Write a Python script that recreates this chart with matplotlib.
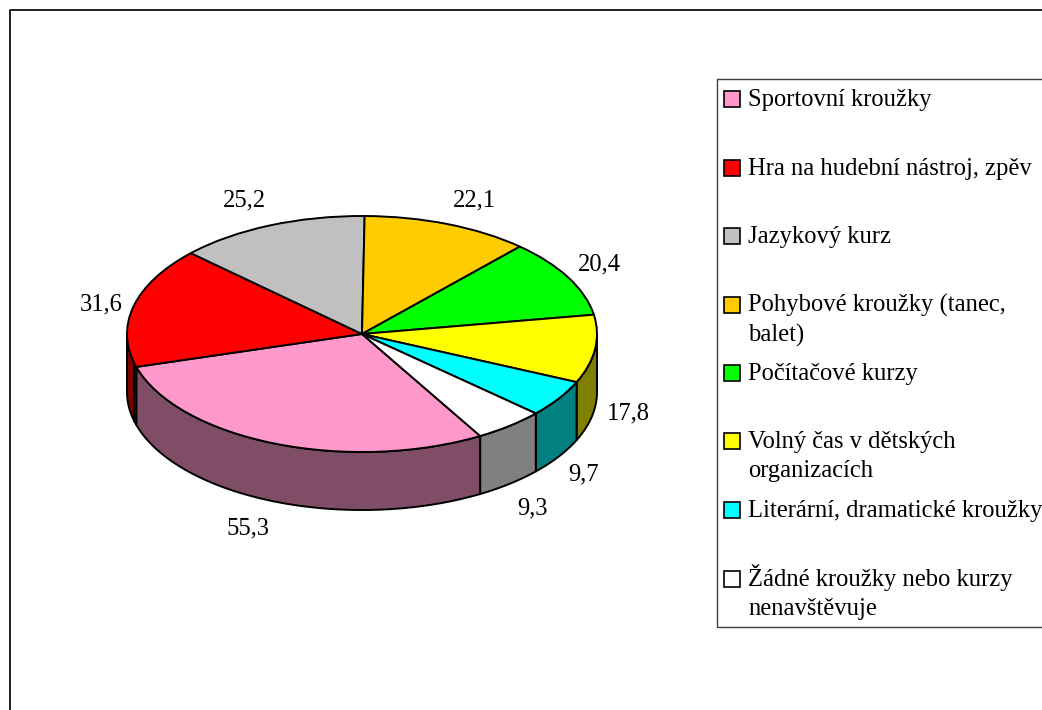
import numpy as np
import matplotlib
matplotlib.use('Agg')
import matplotlib.pyplot as plt
from matplotlib.patches import Rectangle
from matplotlib.lines import Line2D

plt.rcParams['font.family'] = ['Liberation Serif', 'DejaVu Serif']

categories = ['Sportovní kroužky', 'Hra na hudební nástroj, zpěv', 'Jazykový kurz',
              'Pohybové kroužky (tanec,\nbalet)', 'Počítačové kurzy',
              'Volný čas v dětských\norganizacích', 'Literární, dramatické kroužky',
              'Žádné kroužky nebo kurzy\nnenavštěvuje']
values = [55.3, 31.6, 25.2, 22.1, 20.4, 17.8, 9.7, 9.3]
value_labels = ['55,3', '31,6', '25,2', '22,1', '20,4', '17,8', '9,7', '9,3']
colors = ['#FF99CC', '#FF0000', '#C0C0C0', '#FFCC00', '#00FF00', '#FFFF00', '#00FFFF', '#FFFFFF']
side_colors = ['#804D66', '#800000', '#606060', '#806600', '#008000', '#808000', '#008080', '#808080']

W, H = 1042, 710
CX, CY, RX, RY, DEPTH = 362, 334, 235, 118, 58  # pie geometry in pixels
START = -59.8
FS = 17.7
LW = 1.4

# where the value labels sit (pixel centres)
label_pos = [(248, 528), (101, 304), (244, 200), (474, 200), (599, 264), (628, 413), (584, 474), (533, 508)]
# legend rows: swatch centre y
legend_y = [99, 168, 236, 305, 373, 441, 510, 579]


def fx(px):
    return px / W


def fy(py):
    return 1 - py / H


fig = plt.figure(figsize=(W / 100, H / 100), dpi=100)
ax = fig.add_axes([0, 0, 1, 1])

wedges, _ = ax.pie(values, colors=colors, startangle=START, counterclock=False,
                   wedgeprops={'edgecolor': 'black', 'linewidth': LW, 'zorder': 3})
ax.set_aspect('auto')
ax.set_xlim(-CX / RX, (W - CX) / RX)
ax.set_ylim((CY - H) / RY, CY / RY)

# side wall of the pie, only the front half shows
depth = DEPTH / RY
a0 = START
for val, side in zip(values, side_colors):
    a1 = a0 - val / sum(values) * 360
    for k in (0, -360):
        hi = min(a0, k)
        lo = max(a1, k - 180)
        if hi > lo:
            t = np.radians(np.linspace(hi, lo, 60))
            x = np.cos(t)
            y = np.sin(t)
            ax.fill(np.r_[x, x[::-1]], np.r_[y, y[::-1] - depth], facecolor=side,
                    edgecolor='black', linewidth=LW, zorder=2)
    a0 = a1

# the cut face of the red slice shows as a thin strip next to the pink one
cut = np.radians(START - values[0] / sum(values) * 360 - 2)
ax.plot([np.cos(cut)] * 2, [np.sin(cut), np.sin(cut) - depth], color='black', lw=LW, zorder=2.5)

# value labels
for (px, py), txt in zip(label_pos, value_labels):
    fig.text(fx(px), fy(py), txt, fontsize=FS, ha='center', va='center', color='black')

# outer frame, runs off the picture on the right and bottom
fig.add_artist(Line2D([fx(9.5), fx(9.5), 1], [0, fy(10), fy(10)], color='#202020', lw=1.4))

# legend box
fig.add_artist(Line2D([1, fx(716.5), fx(716.5), 1], [fy(78.5), fy(78.5), fy(627), fy(627)],
                      color='#404040', lw=1))
for y, name, col in zip(legend_y, categories, colors):
    fig.add_artist(Rectangle((fx(724), fy(y + 8)), 16 / W, 16 / H, facecolor=col,
                             edgecolor='black', linewidth=1.2, transform=fig.transFigure))
    # each line on its own baseline, the accents would shift a va='top' block
    for i, line in enumerate(name.split('\n')):
        fig.text(fx(748), fy(y + 7 + 29.5 * i), line, fontsize=FS, ha='left', va='baseline',
                 color='black')

fig.savefig('out.png', dpi=100)
